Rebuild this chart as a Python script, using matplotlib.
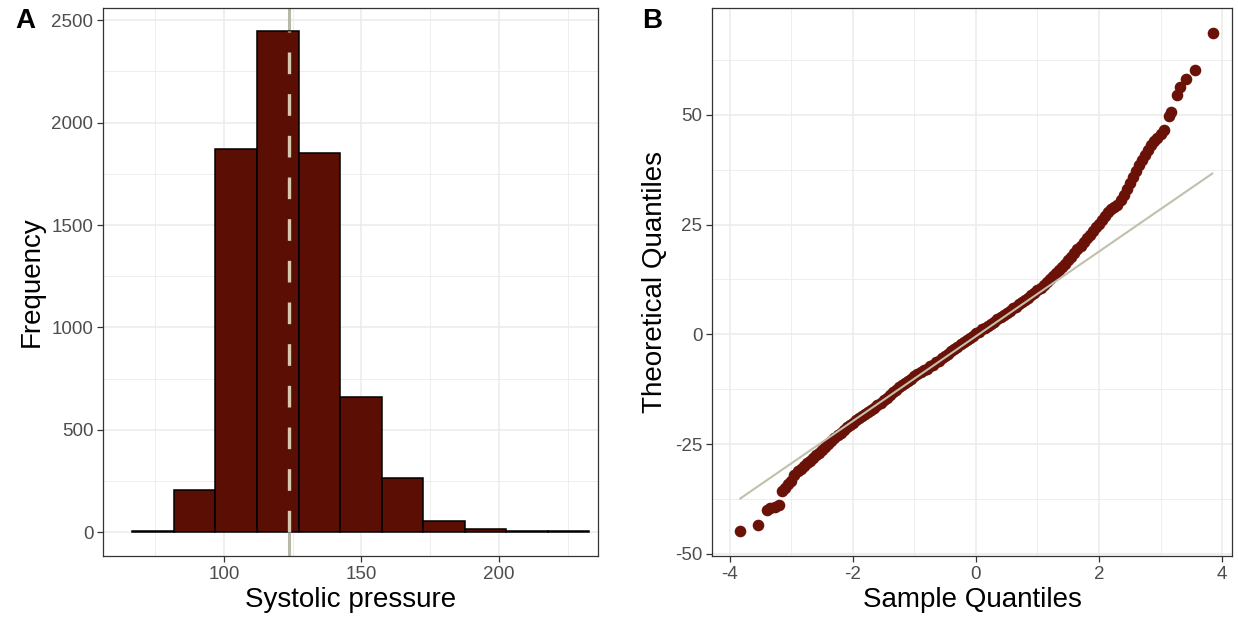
import numpy as np
import matplotlib
matplotlib.use("Agg")
import matplotlib.pyplot as plt
from matplotlib.ticker import MultipleLocator

plt.rcParams['font.family'] = ['Liberation Sans', 'DejaVu Sans']
plt.rcParams['axes.unicode_minus'] = False

# Panel A: histogram of systolic pressure
bin_start = 66.7
bin_width = 15.1
bin_counts = [5, 205, 1870, 2450, 1850, 660, 265, 55, 15, 5, 3]
sbp_mean = 123.8

# Panel B: QQ plot
qq_x = [-3.83, -3.54, -3.40, -3.34, -3.27, -3.20, -3.15, -3.10, -3.05, -3.00,
        -2.95, -2.90, -2.85, -2.80, -2.75, -2.70, -2.65, -2.60, -2.55, -2.50,
        -2.45, -2.40, -2.35, -2.30, -2.25, -2.20, -2.15, -2.10, -2.05,
        -2.00, -1.95, -1.90, -1.85, -1.80, -1.75, -1.70, -1.65, -1.60, -1.55,
        -1.50, -1.45, -1.40, -1.35, -1.30, -1.25, -1.20, -1.15, -1.10, -1.05,
        -1.00, -0.95, -0.90, -0.85, -0.80, -0.75, -0.70, -0.65, -0.60, -0.55,
        -0.50, -0.45, -0.40, -0.35, -0.30, -0.25, -0.20, -0.15, -0.10, -0.05,
        0.00, 0.05, 0.10, 0.15, 0.20, 0.25, 0.30, 0.35, 0.40, 0.45,
        0.50, 0.55, 0.60, 0.65, 0.70, 0.75, 0.80, 0.85, 0.90, 0.95,
        1.00, 1.05, 1.10, 1.15, 1.20, 1.25, 1.30, 1.35, 1.40, 1.45,
        1.50, 1.55, 1.60, 1.65, 1.70, 1.75, 1.80, 1.85, 1.90, 1.95,
        2.00, 2.05, 2.10, 2.15, 2.20, 2.25, 2.30, 2.35, 2.40, 2.45, 2.50,
        2.55, 2.60, 2.65, 2.70, 2.75, 2.80, 2.85, 2.90, 2.95, 3.00,
        3.05, 3.13, 3.17, 3.26, 3.32, 3.41, 3.56, 3.85]
qq_y = [-44.7, -43.4, -40.0, -39.6, -39.3, -38.9, -35.8, -35.0, -34.2, -33.3,
        -32.0, -31.2, -30.6, -30.0, -29.4, -28.8, -28.2, -27.6, -27.0, -26.4,
        -25.7, -25.0, -24.3, -23.6, -23.0, -22.4, -21.8, -21.2, -20.6,
        -20.1, -19.6, -19.1, -18.7, -18.2, -17.7, -17.2, -16.7, -16.2, -15.6,
        -15.0, -14.4, -13.8, -13.2, -12.7, -12.1, -11.6, -11.1, -10.6, -10.1,
        -9.6, -9.1, -8.7, -8.2, -7.8, -7.3, -6.9, -6.4, -6.0, -5.5,
        -5.0, -4.4, -3.9, -3.3, -2.8, -2.3, -1.8, -1.3, -0.8, -0.3,
        0.2, 0.6, 1.1, 1.5, 2.0, 2.4, 2.9, 3.4, 3.9, 4.4,
        4.9, 5.4, 5.9, 6.3, 6.8, 7.3, 7.8, 8.3, 8.9, 9.4,
        10.0, 10.6, 11.2, 11.8, 12.5, 13.2, 13.9, 14.6, 15.4, 16.1,
        16.9, 17.7, 18.6, 19.4, 20.2, 21.0, 21.9, 22.7, 23.6, 24.4,
        25.2, 26.1, 27.0, 27.8, 28.5, 29.0, 29.5, 30.5, 31.8, 33.1, 34.5,
        35.9, 37.3, 38.6, 39.8, 40.8, 42.0, 43.2, 44.0, 44.8, 45.6,
        46.6, 49.6, 50.6, 54.5, 56.4, 58.1, 60.1, 68.7]
qq_line_x = [-3.83, 3.84]
qq_line_y = [-37.4, 36.6]

BAR_COLOR = '#5B0F04'
PT_COLOR = '#6A1108'
GRID = '#EBEBEB'
TXT = '#4D4D4D'


def style_axes(ax):
    ax.grid(which='major', color=GRID, linewidth=1.1, zorder=0)
    ax.grid(which='minor', color=GRID, linewidth=0.6, zorder=0)
    ax.set_axisbelow(True)
    for sp in ax.spines.values():
        sp.set_color('#333333')
        sp.set_linewidth(0.9)
    ax.tick_params(which='major', length=4, width=0.9, color='#333333',
                   labelsize=13.5, labelcolor=TXT, pad=3)
    ax.tick_params(which='minor', length=0)


fig = plt.figure(figsize=(12.38, 6.28), dpi=100)
axA = fig.add_axes([0.0832, 0.1146, 0.3998, 0.8726])
axB = fig.add_axes([0.5751, 0.1146, 0.4200, 0.8726])

# --- A
edges = bin_start + bin_width * np.arange(len(bin_counts) + 1)
axA.axvline(sbp_mean, color='#B8B8A6', linewidth=2.2, zorder=1)
axA.bar(edges[:-1], bin_counts, width=bin_width, align='edge',
        color=BAR_COLOR, edgecolor='black', linewidth=1.1, zorder=2)
axA.vlines(sbp_mean, 0, max(bin_counts), color='#D6C8AE', linewidth=2.4,
           linestyles=(0, (6.5, 6.0)), zorder=3)
axA.set_xlim(56, 236)
axA.set_ylim(-117, 2560)
axA.xaxis.set_minor_locator(MultipleLocator(25))
axA.yaxis.set_major_locator(MultipleLocator(500))
axA.yaxis.set_minor_locator(MultipleLocator(250))
axA.set_xticks([100, 150, 200])
axA.set_xlabel('Systolic pressure', fontsize=20, color='black', labelpad=3)
axA.set_ylabel('Frequency', fontsize=20, color='black', labelpad=5)
style_axes(axA)

# --- B
axB.scatter(qq_x, qq_y, s=70, color=PT_COLOR, linewidths=0, zorder=2)
axB.plot(qq_line_x, qq_line_y, color='#C2BFAD', linewidth=1.5, zorder=3)
axB.set_xlim(-4.29, 4.16)
axB.set_ylim(-50.5, 74.3)
axB.xaxis.set_minor_locator(MultipleLocator(1))
axB.yaxis.set_minor_locator(MultipleLocator(12.5))
axB.set_xticks([-4, -2, 0, 2, 4])
axB.set_yticks([-50, -25, 0, 25, 50])
axB.set_xlabel('Sample Quantiles', fontsize=20, color='black', labelpad=3)
axB.set_ylabel('Theoretical Quantiles', fontsize=20, color='black', labelpad=5)
style_axes(axB)

fig.text(25 / 1238, 1 - 21 / 628, 'A', fontsize=20, fontweight='bold',
         ha='center', va='center')
fig.text(652 / 1238, 1 - 21 / 628, 'B', fontsize=20, fontweight='bold',
         ha='center', va='center')

fig.savefig('out.png', dpi=100)
